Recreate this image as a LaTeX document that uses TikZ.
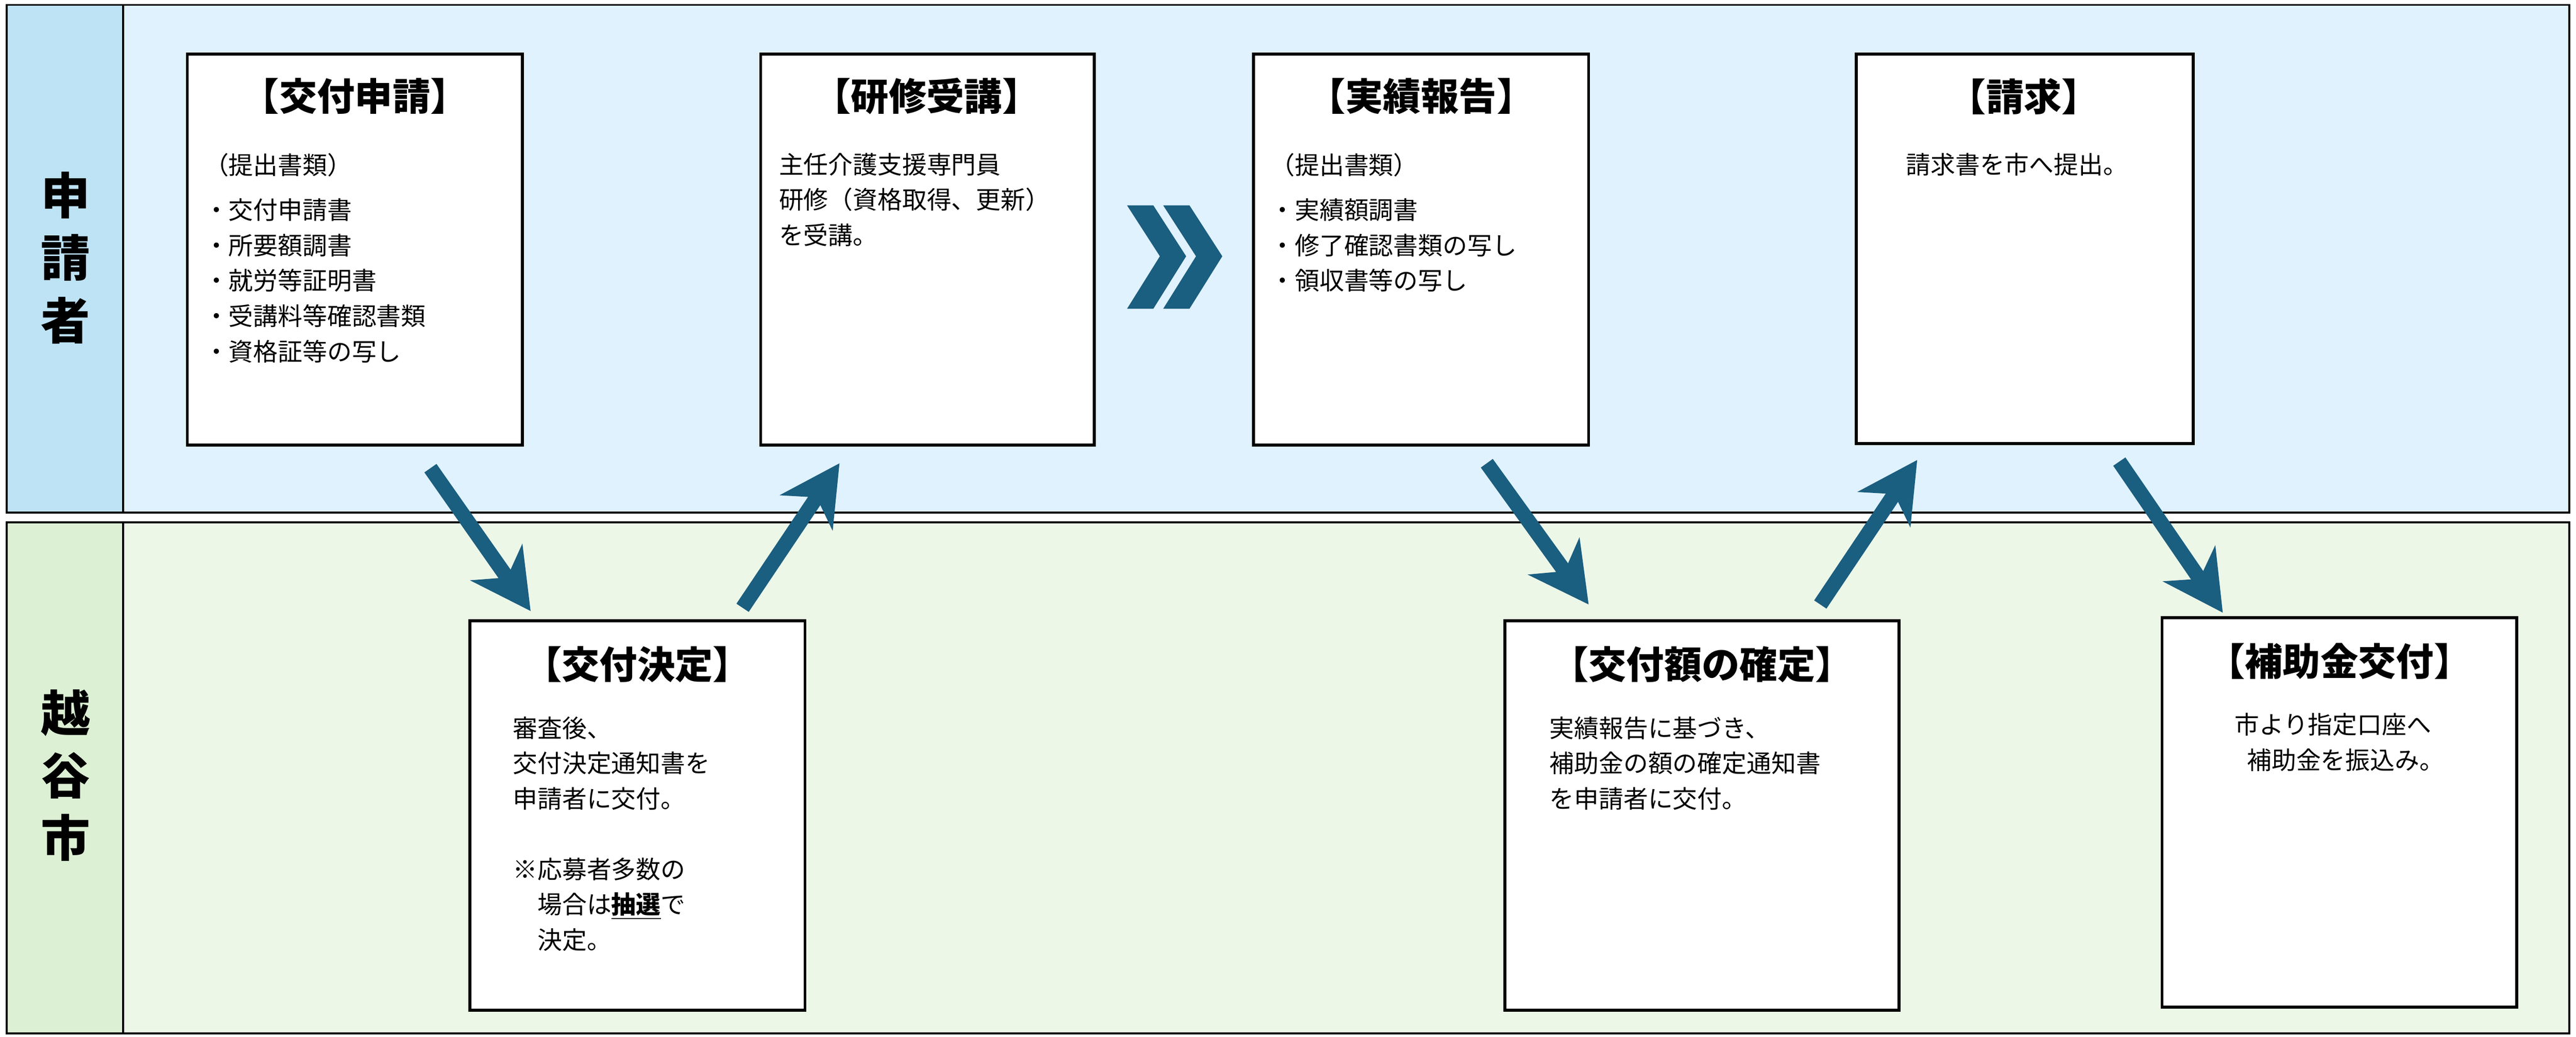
\documentclass[tikz,border=0pt]{standalone}
\usepackage{fontspec}
\setmainfont{Noto Sans CJK JP}
\usetikzlibrary{arrows.meta}
\definecolor{arr}{HTML}{1A5E80}
\definecolor{topL}{HTML}{BEE3F5}
\definecolor{topM}{HTML}{E0F2FD}
\definecolor{botL}{HTML}{DCF0D4}
\definecolor{botM}{HTML}{EDF7E8}
\begin{document}
\begin{tikzpicture}[x=1pt,y=-1pt,
  box/.style={draw=black,line width=1.8pt,fill=white},
  ttl/.style={font=\fontsize{23}{26}\selectfont\bfseries,anchor=north},
  body/.style={font=\fontsize{15}{21.5}\selectfont,anchor=north west,align=left,inner sep=0pt},
  flow/.style={arr,line width=9pt,-{Stealth[length=36pt,width=38pt,inset=11pt]}},
  lane/.style={font=\fontsize{30}{38}\selectfont\bfseries,align=center}]
\useasboundingbox (0,0) rectangle (1568,631);
% lanes
\fill[topM] (4,3) rectangle (1564,312);
\fill[topL] (4,3) rectangle (75,312);
\draw[line width=1.2pt] (4,3) rectangle (1564,312) (75,3)--(75,312);
\fill[botM] (4,318) rectangle (1564,629);
\fill[botL] (4,318) rectangle (75,629);
\draw[line width=1.2pt] (4,318) rectangle (1564,629) (75,318)--(75,629);
\node[lane] (l1) at (40,157) {申\\請\\者};
\node[lane] (l2) at (40,472) {越\\谷\\市};
% boxes
\draw[box] (114,33) rectangle (318,271);
\node[ttl] (t1) at (216,44) {【交付申請】};
\node[body] (b1) at (124,93) {（提出書類）\\[6pt]・交付申請書\\・所要額調書\\・就労等証明書\\・受講料等確認書類\\・資格証等の写し};
\draw[box] (463,33) rectangle (666,271);
\node[ttl] (t2) at (564,44) {【研修受講】};
\node[body] (b2) at (474,93) {主任介護支援専門員\\研修（資格取得、更新）\\を受講。};
\draw[box] (763,33) rectangle (967,271);
\node[ttl] (t3) at (865,44) {【実績報告】};
\node[body] (b3) at (773,93) {（提出書類）\\[6pt]・実績額調書\\・修了確認書類の写し\\・領収書等の写し};
\draw[box] (1130,33) rectangle (1335,270);
\node[ttl] (t4) at (1232,44) {【請求】};
\node[body] (b4) at (1160,93) {請求書を市へ提出。};
\draw[box] (286,378) rectangle (490,615);
\node[ttl] (t5) at (388,390) {【交付決定】};
\node[body] (b5) at (312,436) {審査後、\\交付決定通知書を\\申請者に交付。\\[21.5pt]※応募者多数の\\\hspace*{1em}場合は\textbf{\underline{抽選}}で\\\hspace*{1em}決定。};
\draw[box] (916,378) rectangle (1156,615);
\node[ttl] (t6) at (1036,390) {【交付額の確定】};
\node[body] (b6) at (943,436) {実績報告に基づき、\\補助金の額の確定通知書\\を申請者に交付。};
\draw[box] (1316,376) rectangle (1532,613);
\node[ttl] (t7) at (1424,388) {【補助金交付】};
\node[body,align=left] (b7) at (1360,434) {市より指定口座へ\\\hspace*{0.5em}補助金を振込み。};
% chevron
\fill[arr] (686,125) -- (702,125) -- (722,156) -- (702,188) -- (686,188) -- (706,156) -- cycle;
\fill[arr] (708,125) -- (724,125) -- (744,156) -- (724,188) -- (708,188) -- (728,156) -- cycle;
% arrows
\coordinate (a1) at (262,285); \coordinate (a2) at (323,372);
\coordinate (a3) at (452,370); \coordinate (a4) at (511,282);
\coordinate (a5) at (905,282); \coordinate (a6) at (967,368);
\coordinate (a7) at (1108,368); \coordinate (a8) at (1167,280);
\coordinate (a9) at (1290,281); \coordinate (a10) at (1353,373);
\draw[flow] (a1)--(a2);
\draw[flow] (a3)--(a4);
\draw[flow] (a5)--(a6);
\draw[flow] (a7)--(a8);
\draw[flow] (a9)--(a10);
\end{tikzpicture}
\end{document}
